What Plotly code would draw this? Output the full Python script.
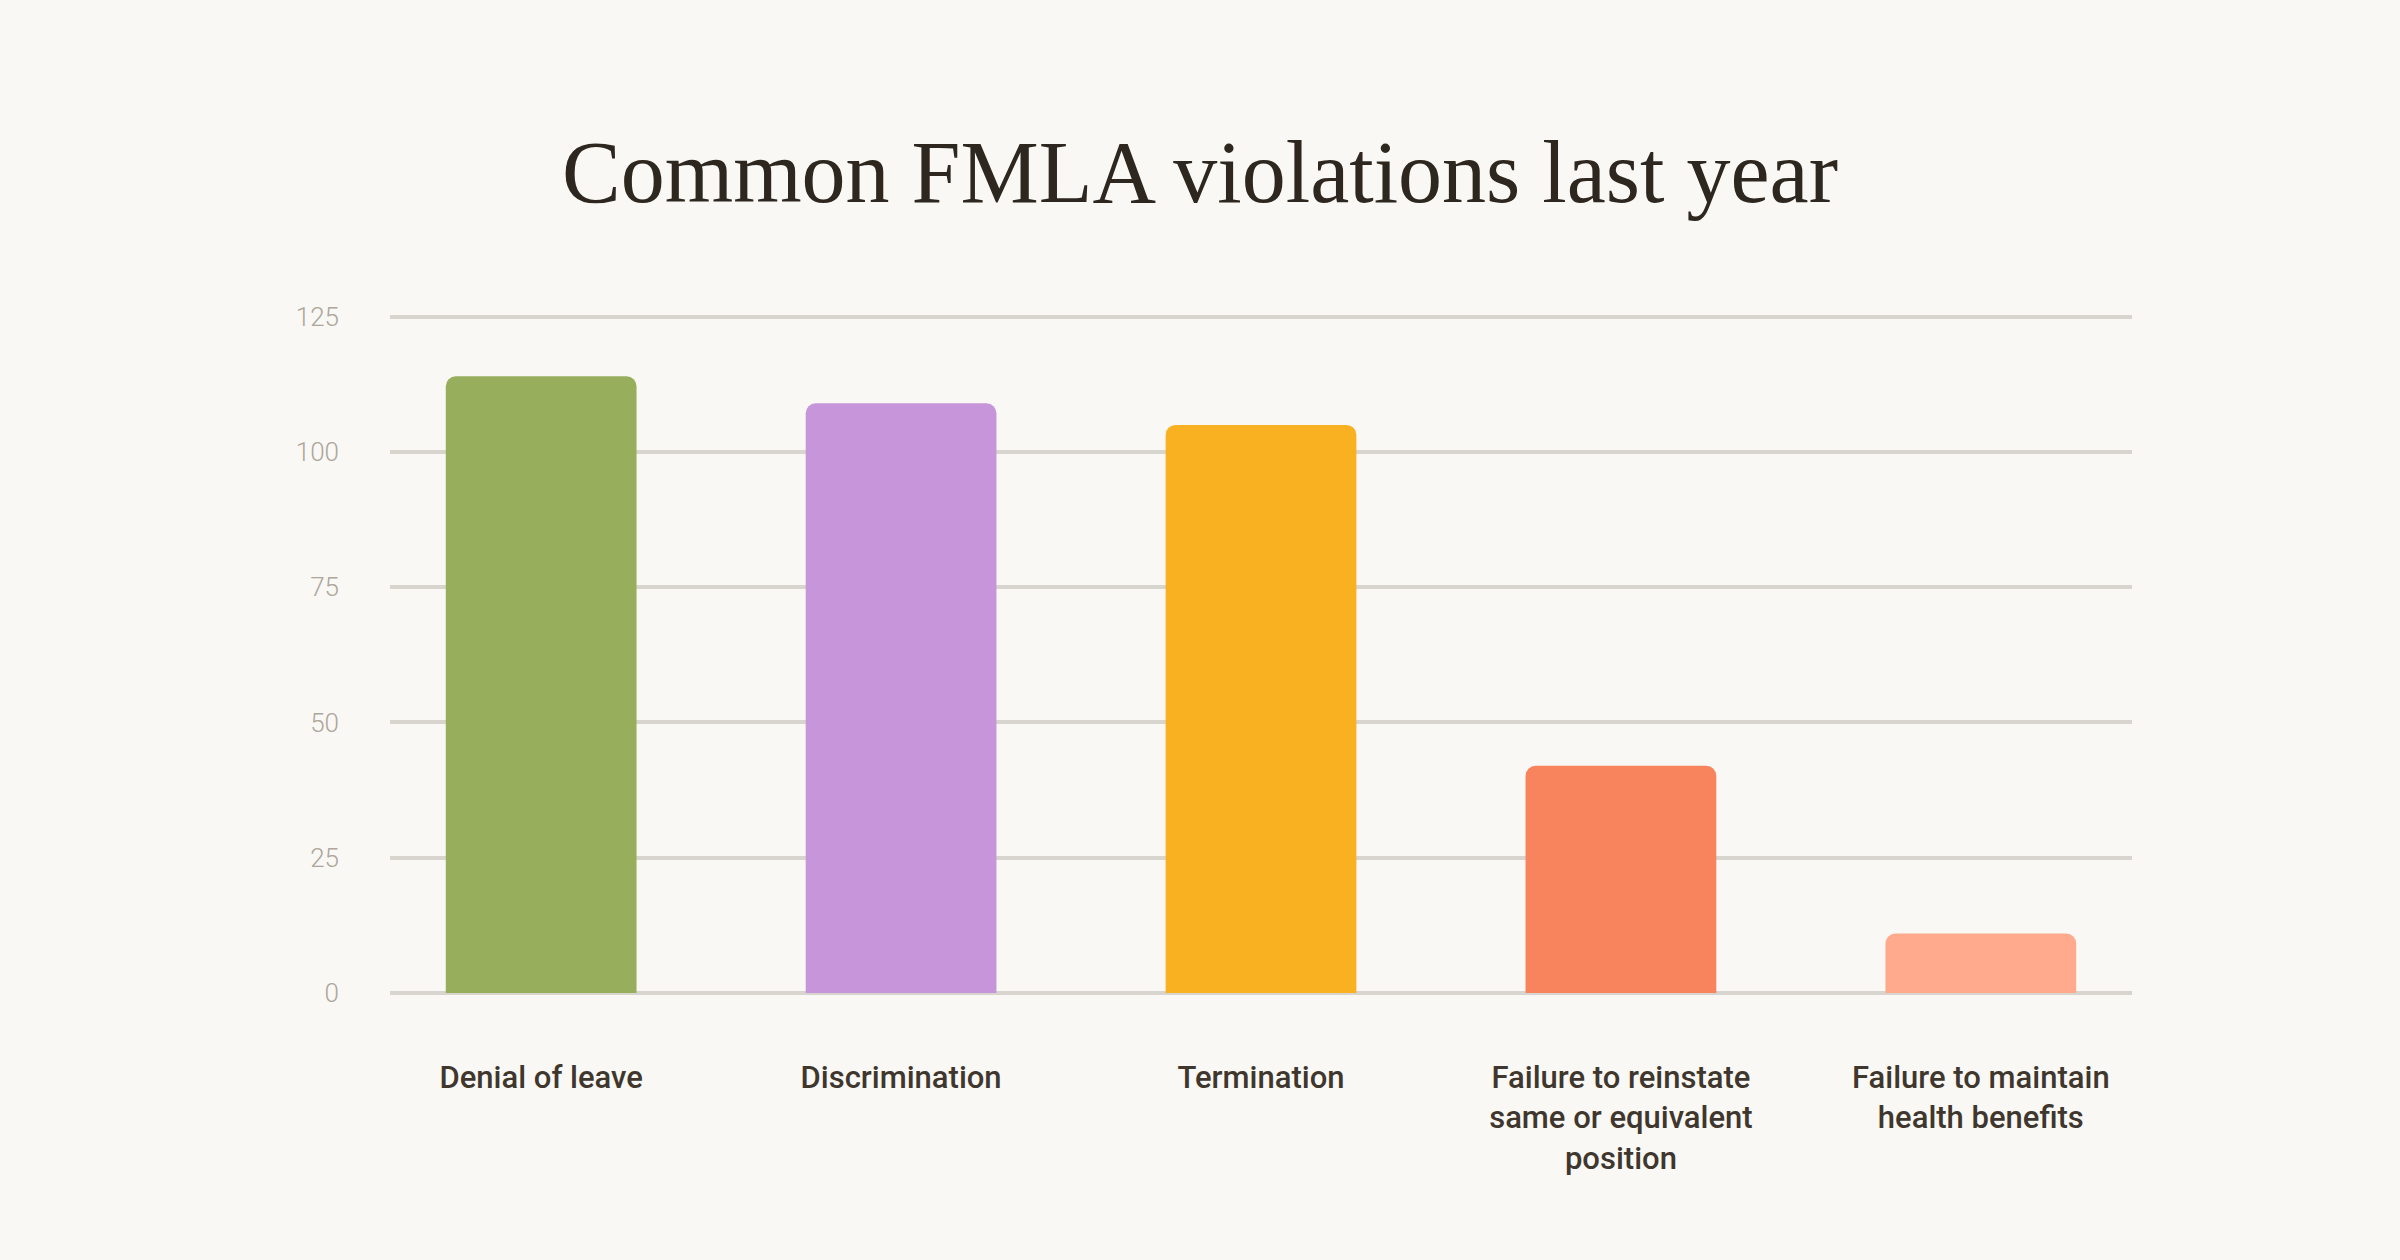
import plotly.graph_objects as go

categories = [
    "Denial of leave",
    "Discrimination",
    "Termination",
    "Failure to reinstate<br>same or equivalent<br>position",
    "Failure to maintain<br>health benefits",
]
values = [114, 109, 105, 42, 11]
bar_colors = ["#97AF5C", "#C695DA", "#F9B122", "#F8845E", "#FFA98D"]
y_ticks = [0, 25, 50, 75, 100, 125]

fig = go.Figure()
fig.add_trace(go.Bar(
    x=list(range(len(categories))),
    y=values,
    marker=dict(color=bar_colors, line=dict(width=0), cornerradius=10),
    width=0.53,
    hoverinfo="skip",
))

fig.update_layout(
    width=2400,
    height=1260,
    paper_bgcolor="#F9F8F4",
    plot_bgcolor="#F9F8F4",
    margin=dict(l=390, r=268, t=314, b=267),
    showlegend=False,
    title=dict(
        text="Common FMLA violations last year",
        x=0.5, xanchor="center",
        y=1 - 171 / 1260, yanchor="middle",
        font=dict(family="Liberation Serif, serif", size=88, color="#2E271F"),
    ),
    xaxis=dict(
        tickmode="array",
        tickvals=list(range(len(categories))),
        ticktext=categories,
        range=[-0.42, 4.42],
        showgrid=False,
        zeroline=False,
        showline=False,
        ticks="",
        ticklabelstandoff=63,
        tickfont=dict(family="Roboto, sans-serif", size=31, weight=500, color="#3F372E"),
    ),
    yaxis=dict(
        range=[0, 125.5],
        tickmode="array",
        tickvals=y_ticks,
        showgrid=True,
        gridcolor="#D8D5CF",
        gridwidth=4,
        zeroline=True,
        zerolinecolor="#D8D5CF",
        zerolinewidth=4,
        showline=False,
        ticks="",
        ticklabelstandoff=50,
        tickfont=dict(family="Roboto, sans-serif", size=26, weight=300, color="#ADA69C"),
    ),
)

fig.write_html(
    "out.html",
    config={"displayModeBar": False},
    post_script="document.body.style.margin='0';document.body.style.background='#F9F8F4';",
)
